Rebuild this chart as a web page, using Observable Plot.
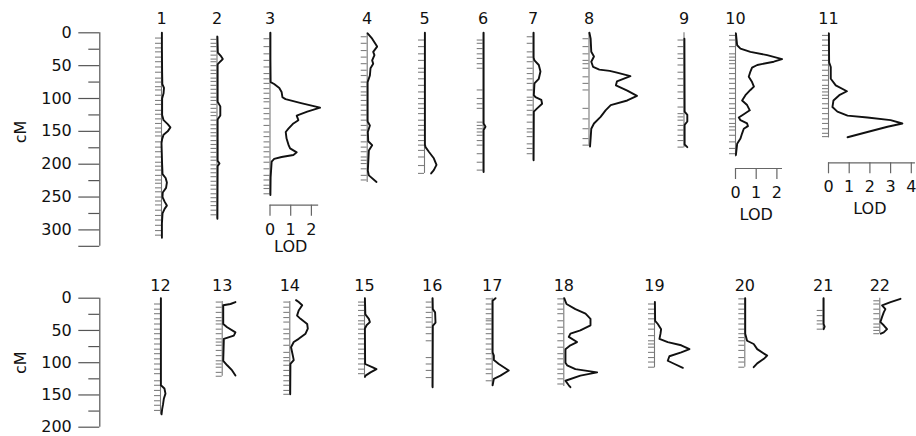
<!DOCTYPE html>
<html><head><meta charset="utf-8">
<script src="https://cdn.jsdelivr.net/npm/d3@7"></script>
<script src="https://cdn.jsdelivr.net/npm/@observablehq/plot@0.6"></script>
<style>
body{margin:0;background:#fff;}
#chart svg{display:block;}
</style></head><body><div id="chart"></div>
<script>
// ---------------- DATA ----------------
const chromNames = ["1","2","3","4","5","6","7","8","9","10","11","12","13","14","15","16","17","18","19","20","21","22"];
const topRow = [0,1,2,3,4,5,6,7,8,9,10];
const bottomRow = [11,12,13,14,15,16,17,18,19,20,21];
const chromStart = [0,5,0,0,0,0,0,0,0,0,0, 0,5,5,0,0,0,0,6,0,0,0];
const chromEnd   = [312,283,247,228,214,212,194,173,175,189,160, 180,121,149,122,138,135,137,108,107,48,55];

// marker positions (cM) per chromosome
const markerPos = [
  [8,16,23,29,37,44,52,60,69,75,82,87,95,103,109,118,124,131,138,145,151,157,166,174,181,189,197,203,209,217,224,229,236,242,250,256,262,270,278,285,293,301,308],
  [10,16,21,28,34,40,44,50,57,62,69,74,80,86,92,98,103,109,115,121,126,133,140,146,152,157,164,170,176,182,189,194,201,207,213,219,226,232,238,245,251,257,263,270,277],
  [9,21,32,42,52,62,70,77,85,92,100,105,115,123,131,141,151,158,166,174,181,189,197,207,217,224,232,237,245],
  [6,16,27,37,47,57,65,75,82,90,95,103,110,118,125,133,141,148,156,166,174,181,189,194,199,207,217,224],
  [11,21,32,42,54,60,70,80,90,100,108,115,123,133,141,148,156,164,171,179,189,202,214],
  [11,16,24,32,39,47,54,87,100,108,115,136,141,146,151,156,164,171,184,197,209],
  [6,16,29,37,44,54,62,70,77,87,98,103,110,118,125,136,146,151,158,169,176,184],
  [9,21,32,42,47,54,67,77,87,115,131,146,161,171],
  [11,21,32,39,49,60,70,80,90,100,113,123,128,133,141,148,156,164,174],
  [4,11,21,32,37,42,47,54,62,70,77,85,92,100,108,115,123,131,138,143,148,156,166,176,184],
  [4,11,19,27,34,42,49,57,65,72,80,85,90,95,100,108,115,123,131,138,146,153,158],
  [9,17,24,32,40,48,55,63,71,79,86,94,102,110,117,128,135,143,151,159,166,174],
  [6,14,22,30,35,40,48,55,63,68,73,81,89,97,102,107,115,121],
  [6,14,22,30,37,48,55,63,73,84,92,97,104,112,120,128,135,143,149],
  [6,11,19,27,35,40,48,55,63,71,79,86,94,102,110,117],
  [6,14,22,30,37,45,55,66,92,102,112,123],
  [1,9,17,24,32,35,40,48,55,63,71,79,86,94,102,110,117,128],
  [1,9,17,24,35,45,55,66,76,86,94,102,110,117,125,133],
  [9,17,24,32,40,48,58,66,71,76,84,92,99,107],
  [1,9,17,24,32,40,48,55,61,66,73,81,92,99,107],
  [19,27,35,40,48],
  [4,9,17,24,32,40,45,50,55]
];

// LOD profiles: [cM, LOD] per chromosome
const lodCurves = [
  [[0,0.02],[20,0.02],[60,0.03],[78,0.04],[84,0.12],[92,0.1],[100,0.03],[125,0.03],[133,0.1],[139,0.3],[144,0.43],[150,0.3],[155,0.1],[162,0.03],[168,0],[200,0.03],[215,0.05],[221,0.2],[228,0.26],[236,0.22],[243,0.06],[250,0.05],[257,0.15],[263,0.26],[268,0.15],[275,0.05],[290,0.02],[312,0.02]],
  [[6,0.02],[30,0.04],[35,0.18],[40,0.28],[44,0.15],[48,0.03],[105,0.03],[112,0.16],[126,0.16],[132,0.03],[195,0.03],[199,0.12],[203,0.03],[283,0.02]],
  [[0,0.02],[40,0.02],[75,0.03],[78,0.2],[84,0.45],[90,0.56],[98,0.6],[101,0.75],[107,1.5],[114,2.42],[120,1.8],[126,1.29],[133,1.37],[138,1.13],[146,0.89],[151,0.76],[161,0.8],[171,0.9],[176,0.97],[182,1.29],[186,1.13],[189,0.56],[192,0.2],[196,0.08],[220,0.03],[247,0.02]],
  [[1,0.02],[9,0.24],[21,0.48],[29,0.29],[34,0.35],[42,0.24],[47,0.29],[54,0.16],[65,0.13],[75,0.02],[135,0.02],[141,0.13],[151,0.03],[165,0.05],[171,0.24],[179,0.08],[210,0.03],[217,0.08],[227,0.45]],
  [[0,0.02],[170,0.02],[174,0.05],[181,0.21],[191,0.45],[201,0.58],[209,0.45],[214,0.32]],
  [[0,0.02],[138,0.02],[143,0.11],[148,0.02],[212,0.02]],
  [[0,0.02],[38,0.02],[42,0.06],[49,0.27],[59,0.35],[70,0.27],[77,0.06],[95,0.03],[98,0.11],[102,0.39],[108,0.43],[115,0.19],[120,0.03],[194,0.02]],
  [[0,0.02],[9,0.08],[29,0.11],[36,0.24],[44,0.11],[52,0.2],[56,0.5],[58,1.0],[61,1.4],[66,2.0],[74,1.35],[80,1.3],[88,1.85],[96,2.32],[103,1.85],[110,1.05],[118,0.8],[128,0.56],[138,0.24],[146,0.11],[160,0.08],[173,0.05]],
  [[9,0.02],[120,0.03],[125,0.16],[135,0.16],[140,0.03],[170,0.03],[174,0.16]],
  [[1,0.02],[19,0.08],[24,0.24],[29,0.72],[34,1.53],[40,2.25],[44,1.85],[49,1.05],[53,0.8],[59,0.72],[67,0.64],[75,0.8],[82,0.89],[87,0.72],[95,0.48],[103,0.32],[110,0.56],[118,0.69],[124,0.4],[129,0.16],[133,0.24],[138,0.56],[142,0.6],[146,0.4],[153,0.32],[161,0.24],[169,0.08],[186,0.02]],
  [[1,0.02],[45,0.03],[52,0.11],[70,0.11],[80,0.35],[89,0.89],[95,0.52],[103,0.24],[113,0.19],[120,0.43],[126,0.92],[129,1.88],[133,3.0],[138,3.57],[143,2.85],[151,1.88],[159,0.92]],
  [[0,0.02],[135,0.02],[140,0.19],[148,0.24],[156,0.16],[165,0.12],[172,0.08],[180,0.05]],
  [[6,0.64],[9,0.4],[11,0.05],[40,0.05],[45,0.24],[53,0.64],[58,0.56],[63,0.08],[97,0.05],[104,0.24],[112,0.48],[120,0.64]],
  [[3,0.3],[6,0.43],[11,0.6],[19,0.43],[27,0.35],[32,0.52],[40,0.84],[47,0.87],[55,0.76],[63,0.43],[68,0.19],[76,0.06],[91,0.16],[96,0.19],[102,0.03],[149,0.02]],
  [[0,0.02],[25,0.04],[32,0.21],[37,0.26],[42,0.1],[47,0.02],[102,0.03],[107,0.37],[110,0.58],[115,0.29],[120,0.05],[122,0.02]],
  [[0,0.02],[17,0.03],[22,0.14],[38,0.16],[43,0.03],[138,0.02]],
  [[0,0.16],[4,0.02],[84,0.02],[89,0.08],[96,0.08],[102,0.32],[112,0.8],[120,0.4],[125,0.08],[135,0.02]],
  [[0,0.02],[9,0.13],[17,0.56],[24,1.05],[32,1.29],[42,1.29],[50,0.8],[55,0.32],[60,0.24],[68,0.64],[73,0.32],[79,0.08],[100,0.08],[104,0.16],[110,0.56],[115,1.61],[120,0.8],[128,0.08],[135,0.24],[138,0.32]],
  [[6,0.02],[35,0.03],[40,0.16],[48,0.32],[55,0.29],[63,0.24],[68,0.64],[73,1.29],[79,1.69],[84,1.29],[90,0.72],[97,0.64],[102,0.97],[108,1.37]],
  [[0,0.02],[55,0.02],[66,0.11],[71,0.43],[79,0.6],[89,1.08],[94,0.92],[101,0.6],[107,0.43]],
  [[0,0.02],[40,0.02],[44,0.07],[48,0.02]],
  [[1,1.0],[6,0.52],[11,0.11],[17,0.27],[22,0.19],[29,0.11],[37,0.03],[42,0.19],[48,0.35],[53,0.19],[55,0.05]]
];

// cM axis ticks and labels
const cmTicksTop = [0,25,50,75,100,125,150,175,200,225,250,275,300,325];
const cmLabelsTop = [0,50,100,150,200,250,300];
const cmTicksBottom = [0,25,50,75,100,125,150,175,200];
const cmLabelsBottom = [0,50,100,150,200];

// LOD scale bars (chromosome index, tick values, bar extent)
const lodBarChrom = [2, 9, 10];
const lodBarTicks = [[0,1,2],[0,1,2],[0,1,2,3,4]];
const lodBarMax = [2.35, 2.27, 4.2];

// ---------------- LAYOUT ----------------
const W = 916;
const PX_PER_LOD = 20.7;
const chromXpx = [161,216.5,269.5,366.7,424,482.7,532.7,588.5,683.5,735,828, 160,221.7,289.3,364,431.7,491.7,563.3,654,744.3,822.7,879.3];
const lodBarYpx = [204.7, 168, 162.3];
const axisXpx = 99.3;
const FONT = "DejaVu Sans, Liberation Sans, sans-serif";
const FS = 16;

const xScale = Plot.scale({x: {domain: [0, W / PX_PER_LOD], range: [0, W]}});
const px2x = p => xScale.invert(p);
const off = i => px2x(chromXpx[i]);
const axisX = px2x(axisXpx);
const lenX = p => p / PX_PER_LOD;

function panel(rows, cfg) {
  const yScale = Plot.scale({y: {domain: cfg.domain, range: cfg.range}});
  const marks = [];
  // cM axis
  marks.push(Plot.ruleX([axisX], {y1: 0, y2: cfg.axisEnd, stroke: "#555", strokeWidth: 1.2}));
  marks.push(Plot.ruleY(cfg.ticks, {y: d => d, x1: d => axisX - lenX(cfg.labels.includes(d) || d === cfg.axisEnd ? 21 : 11), x2: axisX, stroke: "#555", strokeWidth: 1.2}));
  marks.push(Plot.text(cfg.labels, {x: axisX, y: d => d, text: d => String(d), textAnchor: "end", dx: -28, fontSize: FS, fill: "#111"}));
  marks.push(Plot.text(["cM"], {x: axisX, y: cfg.cmY, text: d => d, rotate: -90, dx: -79, fontSize: FS, fill: "#111"}));
  // chromosome labels
  marks.push(Plot.text(rows, {x: i => off(i), y: 0, text: i => chromNames[i], dy: cfg.labelDy, fontSize: FS, fill: "#111"}));
  // chromosome lines
  marks.push(Plot.ruleX(rows, {x: i => off(i), y1: i => chromStart[i], y2: i => chromEnd[i], stroke: "#777", strokeWidth: 1.1}));
  // marker ticks
  const mk = rows.flatMap(i => markerPos[i].map(m => ({i, m})));
  marks.push(Plot.ruleY(mk, {y: "m", x1: d => off(d.i) - lenX(6), x2: d => off(d.i), stroke: "#808080", strokeWidth: 1.1}));
  // LOD curves
  const lc = rows.flatMap(i => lodCurves[i].map(([c, l]) => ({i, c, l})));
  marks.push(Plot.line(lc, {x: d => off(d.i) + d.l, y: "c", z: "i", stroke: "#111", strokeWidth: 1.9, strokeLinejoin: "round"}));
  // LOD scale bars
  lodBarChrom.forEach((ci, k) => {
    if (!rows.includes(ci)) return;
    const y0 = yScale.invert(lodBarYpx[k]);
    const y1 = yScale.invert(lodBarYpx[k] + 11);
    const ticks = lodBarTicks[k];
    marks.push(Plot.ruleY([y0], {x1: off(ci), x2: off(ci) + lodBarMax[k], stroke: "#666", strokeWidth: 1.2}));
    marks.push(Plot.ruleX(ticks, {x: t => off(ci) + t, y1: y0, y2: y1, stroke: "#666", strokeWidth: 1.2}));
    marks.push(Plot.text(ticks, {x: t => off(ci) + t, y: y0, text: t => String(t), dy: 24.5, fontSize: FS, fill: "#111"}));
    marks.push(Plot.text(["LOD"], {x: off(ci) + (ticks[0] + ticks[ticks.length - 1]) / 2, y: y0, text: d => d, dy: k === 0 ? 42 : 46.5, fontSize: FS, fill: "#111"}));
  });
  return Plot.plot({
    width: W, height: cfg.height,
    marginLeft: 0, marginRight: 0, marginTop: 0, marginBottom: 0,
    x: {domain: [0, W / PX_PER_LOD], range: [0, W], axis: null},
    y: {domain: cfg.domain, range: cfg.range, axis: null},
    style: {fontFamily: FONT, background: "white", overflow: "visible"},
    marks
  });
}

const topPanel = panel(topRow, {height: 270, domain: [0, 300], range: [32.3, 229.4], axisEnd: 325, ticks: cmTicksTop, labels: cmLabelsTop, cmY: 151, labelDy: -14.3});
const bottomPanel = panel(bottomRow, {height: 166, domain: [0, 200], range: [27.7, 156.7], axisEnd: 200, ticks: cmTicksBottom, labels: cmLabelsBottom, cmY: 100, labelDy: -12.7});
document.getElementById("chart").append(topPanel, bottomPanel);
</script></body></html>
